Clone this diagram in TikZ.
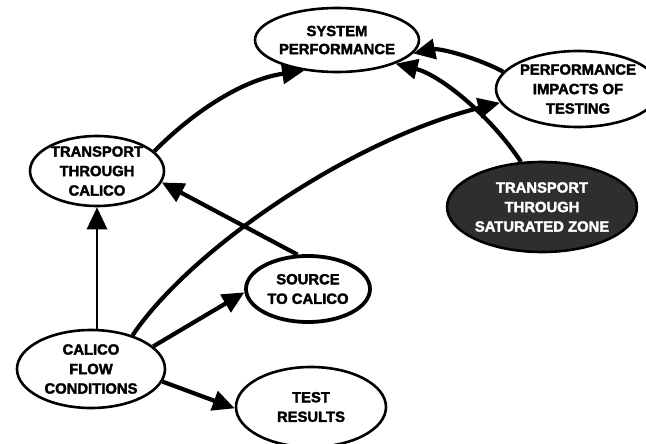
\documentclass[tikz,border=0pt]{standalone}
\usepackage{fontspec}
\newfontfamily\lblfont{Liberation Sans}[BoldFeatures={FakeBold=2.2}]
\usetikzlibrary{shapes.geometric,arrows.meta}

\tikzset{
  bubble/.style={ellipse, draw=black, line width=2.6pt, fill=white, inner sep=0pt,
    align=center, font=\lblfont\bfseries\fontsize{14.8}{19.5}\selectfont},
  thickbubble/.style={bubble, line width=3.8pt},
  darkbubble/.style={bubble, fill=black!82, text=white},
  arr/.style={line width=4.2pt, -{Triangle[length=22pt,width=20pt]}},
  thinarr/.style={line width=2.8pt, -{Triangle[length=22pt,width=20pt]}}
}

\begin{document}
\begin{tikzpicture}[x=1pt,y=-1pt]
\useasboundingbox (0,0) rectangle (646,444);

% outcome nodes
\node[bubble, minimum width=142pt, minimum height=64pt,
      font=\lblfont\bfseries\fontsize{14.8}{18}\selectfont] (sp) at (337,40)
  {SYSTEM\\PERFORMANCE};
\node[bubble, minimum width=140pt, minimum height=76pt] (pi) at (578,89)
  {PERFORMANCE\\IMPACTS OF\\TESTING};
\node[darkbubble, minimum width=172pt, minimum height=90pt] (dz) at (542,207)
  {TRANSPORT\\THROUGH\\SATURATED ZONE};

% process nodes
\node[bubble, minimum width=134pt, minimum height=62pt] (tc) at (97,171)
  {TRANSPORT\\THROUGH\\CALICO};
\node[bubble, minimum width=148pt, minimum height=78pt] (cf) at (91,369)
  {CALICO\\FLOW\\CONDITIONS};
\node[thickbubble, minimum width=124pt, minimum height=66pt] (sc) at (308,289)
  {SOURCE\\TO CALICO};
\node[bubble, minimum width=150pt, minimum height=80pt] (tr) at (311,407)
  {TEST\\RESULTS};

% influences
\draw[arr] (tc.19) .. controls (190,115) and (240,80) .. (sp.223);
\draw[arr] (pi.167) .. controls (478,58) and (440,48) .. (sp.350);
\draw[arr] (dz.115) .. controls (490,115) and (440,75) .. (sp.338);
\draw[arr] (cf.39) .. controls (190,250) and (350,140) .. (pi.190);
\draw[arr] (sc.107) -- (tc.350);
\draw[thinarr] (cf.north -| tc.south) -- (tc.south);
\draw[arr] (cf.20) -- (sc.183);
\draw[arr] (cf.-10) -- (tr.181);
\end{tikzpicture}
\end{document}
